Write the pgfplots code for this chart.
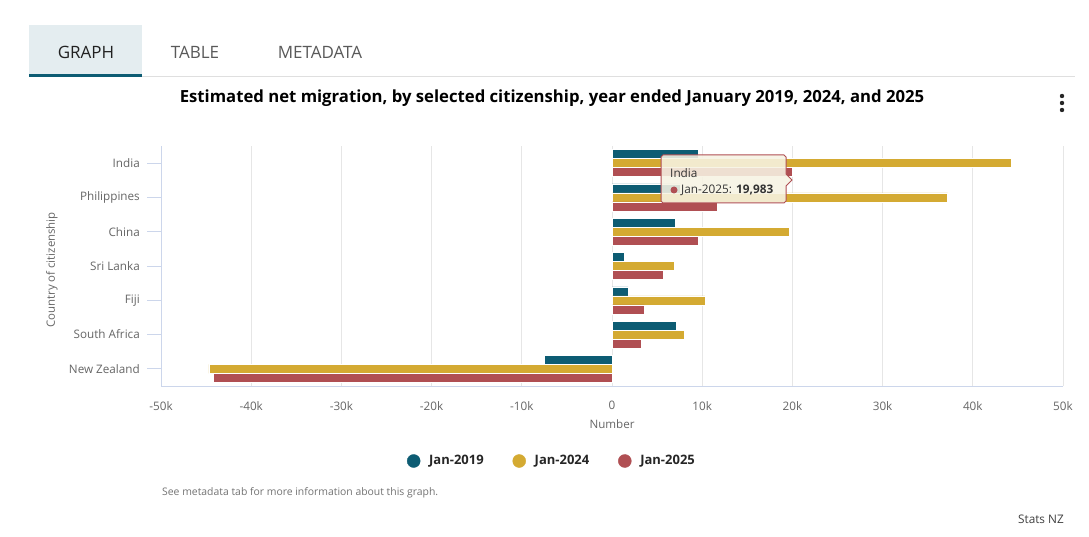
\documentclass[border=0pt]{standalone}
\usepackage{pgfplots}
\pgfplotsset{compat=1.18}
\usepackage{pgfplotstable}
\usepackage{fontspec}
\setmainfont{Open Sans}
\definecolor{c19}{HTML}{0D5C73}
\definecolor{c24}{HTML}{D4AA32}
\definecolor{c25}{HTML}{B04F53}
\definecolor{gridc}{HTML}{E6E6E6}
\definecolor{axisc}{HTML}{CCD6EB}
\definecolor{tickc}{HTML}{666666}
\definecolor{tabbg}{HTML}{E4EDF0}
\definecolor{tipbg}{HTML}{F7F3E3}
\pgfplotstableread{
y v19 v24 v25
6 9600 44300 19983
5 7600 37200 11700
4 7000 19600 9600
3 1400 6900 5700
2 1800 10300 3600
1 7100 8000 3200
0 -7500 -44700 -44200
}\data
\begin{document}
\begin{tikzpicture}[x=1pt,y=1pt]
\useasboundingbox (0,0) rectangle (1089,536);
\fill[white] (0,0) rectangle (1089,536);
% tabs
\fill[tabbg] (29,459) rectangle (142,511);
\fill[c19] (29,458.5) rectangle (142,461.5);
\draw[gray!25, line width=1pt] (142,459.5) -- (1075,459.5);
\node[font=\fontsize{17}{20}\selectfont, text=black!87] at (86,484) {GRAPH};
\node[font=\fontsize{17}{20}\selectfont, text=black!65] at (195,484) {TABLE};
\node[font=\fontsize{17}{20}\selectfont, text=black!65] at (320,484) {METADATA};
% title
\node[font=\fontsize{16.7}{20}\selectfont\bfseries, text=black] at (552,438) {Estimated net migration, by selected citizenship, year ended January 2019, 2024, and 2025};
\foreach \yy in {440,433,426} \fill[black!85] (1062,\yy) circle (2.2);
% axis labels
\node[rotate=90, font=\fontsize{11.4}{14}\selectfont, text=tickc] at (52,266) {Country of citizenship};
\node[font=\fontsize{11.6}{14}\selectfont, text=tickc] at (612,112) {Number};
\node[anchor=west, inner sep=0pt, font=\fontsize{10.4}{12}\selectfont, text=black!55] at (162,43) {See metadata tab for more information about this graph.};
\node[anchor=east, inner sep=0pt, font=\fontsize{11.8}{14}\selectfont, text=black!75] at (1064,17) {Stats NZ};
\begin{axis}[
  at={(161pt,150pt)}, anchor=south west,
  scale only axis, width=902pt, height=240pt,
  xmin=-50000, xmax=50000, ymin=-0.5, ymax=6.5,
  scaled x ticks=false,
  axis lines*=left,
  axis line style={draw=axisc, line width=1pt},
  xmajorgrids, grid style={draw=gridc, line width=0.8pt},
  xtick={-50000,-40000,-30000,-20000,-10000,0,10000,20000,30000,40000,50000},
  xticklabels={-50k,-40k,-30k,-20k,-10k,0,10k,20k,30k,40k,50k},
  xtick style={draw=none},
  ytick={0,1,2,3,4,5,6},
  yticklabels={New Zealand,South Africa,Fiji,Sri Lanka,China,Philippines,India},
  ytick style={draw=axisc, line width=1pt},
  major tick length=14pt, tick align=outside,
  xticklabel style={font=\fontsize{11.7}{14}\selectfont, text=tickc, inner sep=0pt, yshift=-1pt},
  yticklabel style={font=\fontsize{11.7}{14}\selectfont, text=tickc, inner sep=0pt, xshift=-7pt},
  legend columns=3,
  legend style={at={(axis description cs:0.4335,-0.3125)}, anchor=center, draw=none, fill=none,
    font=\fontsize{13}{15}\selectfont\bfseries, text=black!85,
    /tikz/every odd column/.append style={column sep=7pt},
    /tikz/every even column/.append style={column sep=27pt}},
]
\addplot[xbar, bar width=9pt, bar shift=9pt, fill=c19, draw=white, line width=0.3pt, forget plot] table[x=v19, y=y] {\data};
\addplot[xbar, bar width=9pt, bar shift=0pt, fill=c24, draw=white, line width=0.3pt, forget plot] table[x=v24, y=y] {\data};
\addplot[xbar, bar width=9pt, bar shift=-9pt, fill=c25, draw=white, line width=0.3pt, forget plot] table[x=v25, y=y] {\data};
\addlegendimage{only marks, mark=*, mark size=6.5pt, mark options={fill=c19, draw=c19}}
\addlegendentry{Jan-2019}
\addlegendimage{only marks, mark=*, mark size=6.5pt, mark options={fill=c24, draw=c24}}
\addlegendentry{Jan-2024}
\addlegendimage{only marks, mark=*, mark size=6.5pt, mark options={fill=c25, draw=c25}}
\addlegendentry{Jan-2025}
\end{axis}
% tooltip
\draw[c25, line width=1pt, fill=tipbg, fill opacity=0.88] (663,381) -- (784,381) -- (786,379) -- (786,362) -- (792,356) -- (786,350) -- (786,335) -- (784,333) -- (663,333) -- (661,335) -- (661,379) -- cycle;
\node[anchor=west, inner sep=0pt, font=\fontsize{11.8}{14}\selectfont, text=black!80] at (670,363) {India};
\fill[c25] (674,346) circle (3.5);
\node[anchor=west, inner sep=0pt, font=\fontsize{11.8}{14}\selectfont, text=black!80] at (681,346) {Jan-2025: \textbf{19,983}};
\end{tikzpicture}
\end{document}
